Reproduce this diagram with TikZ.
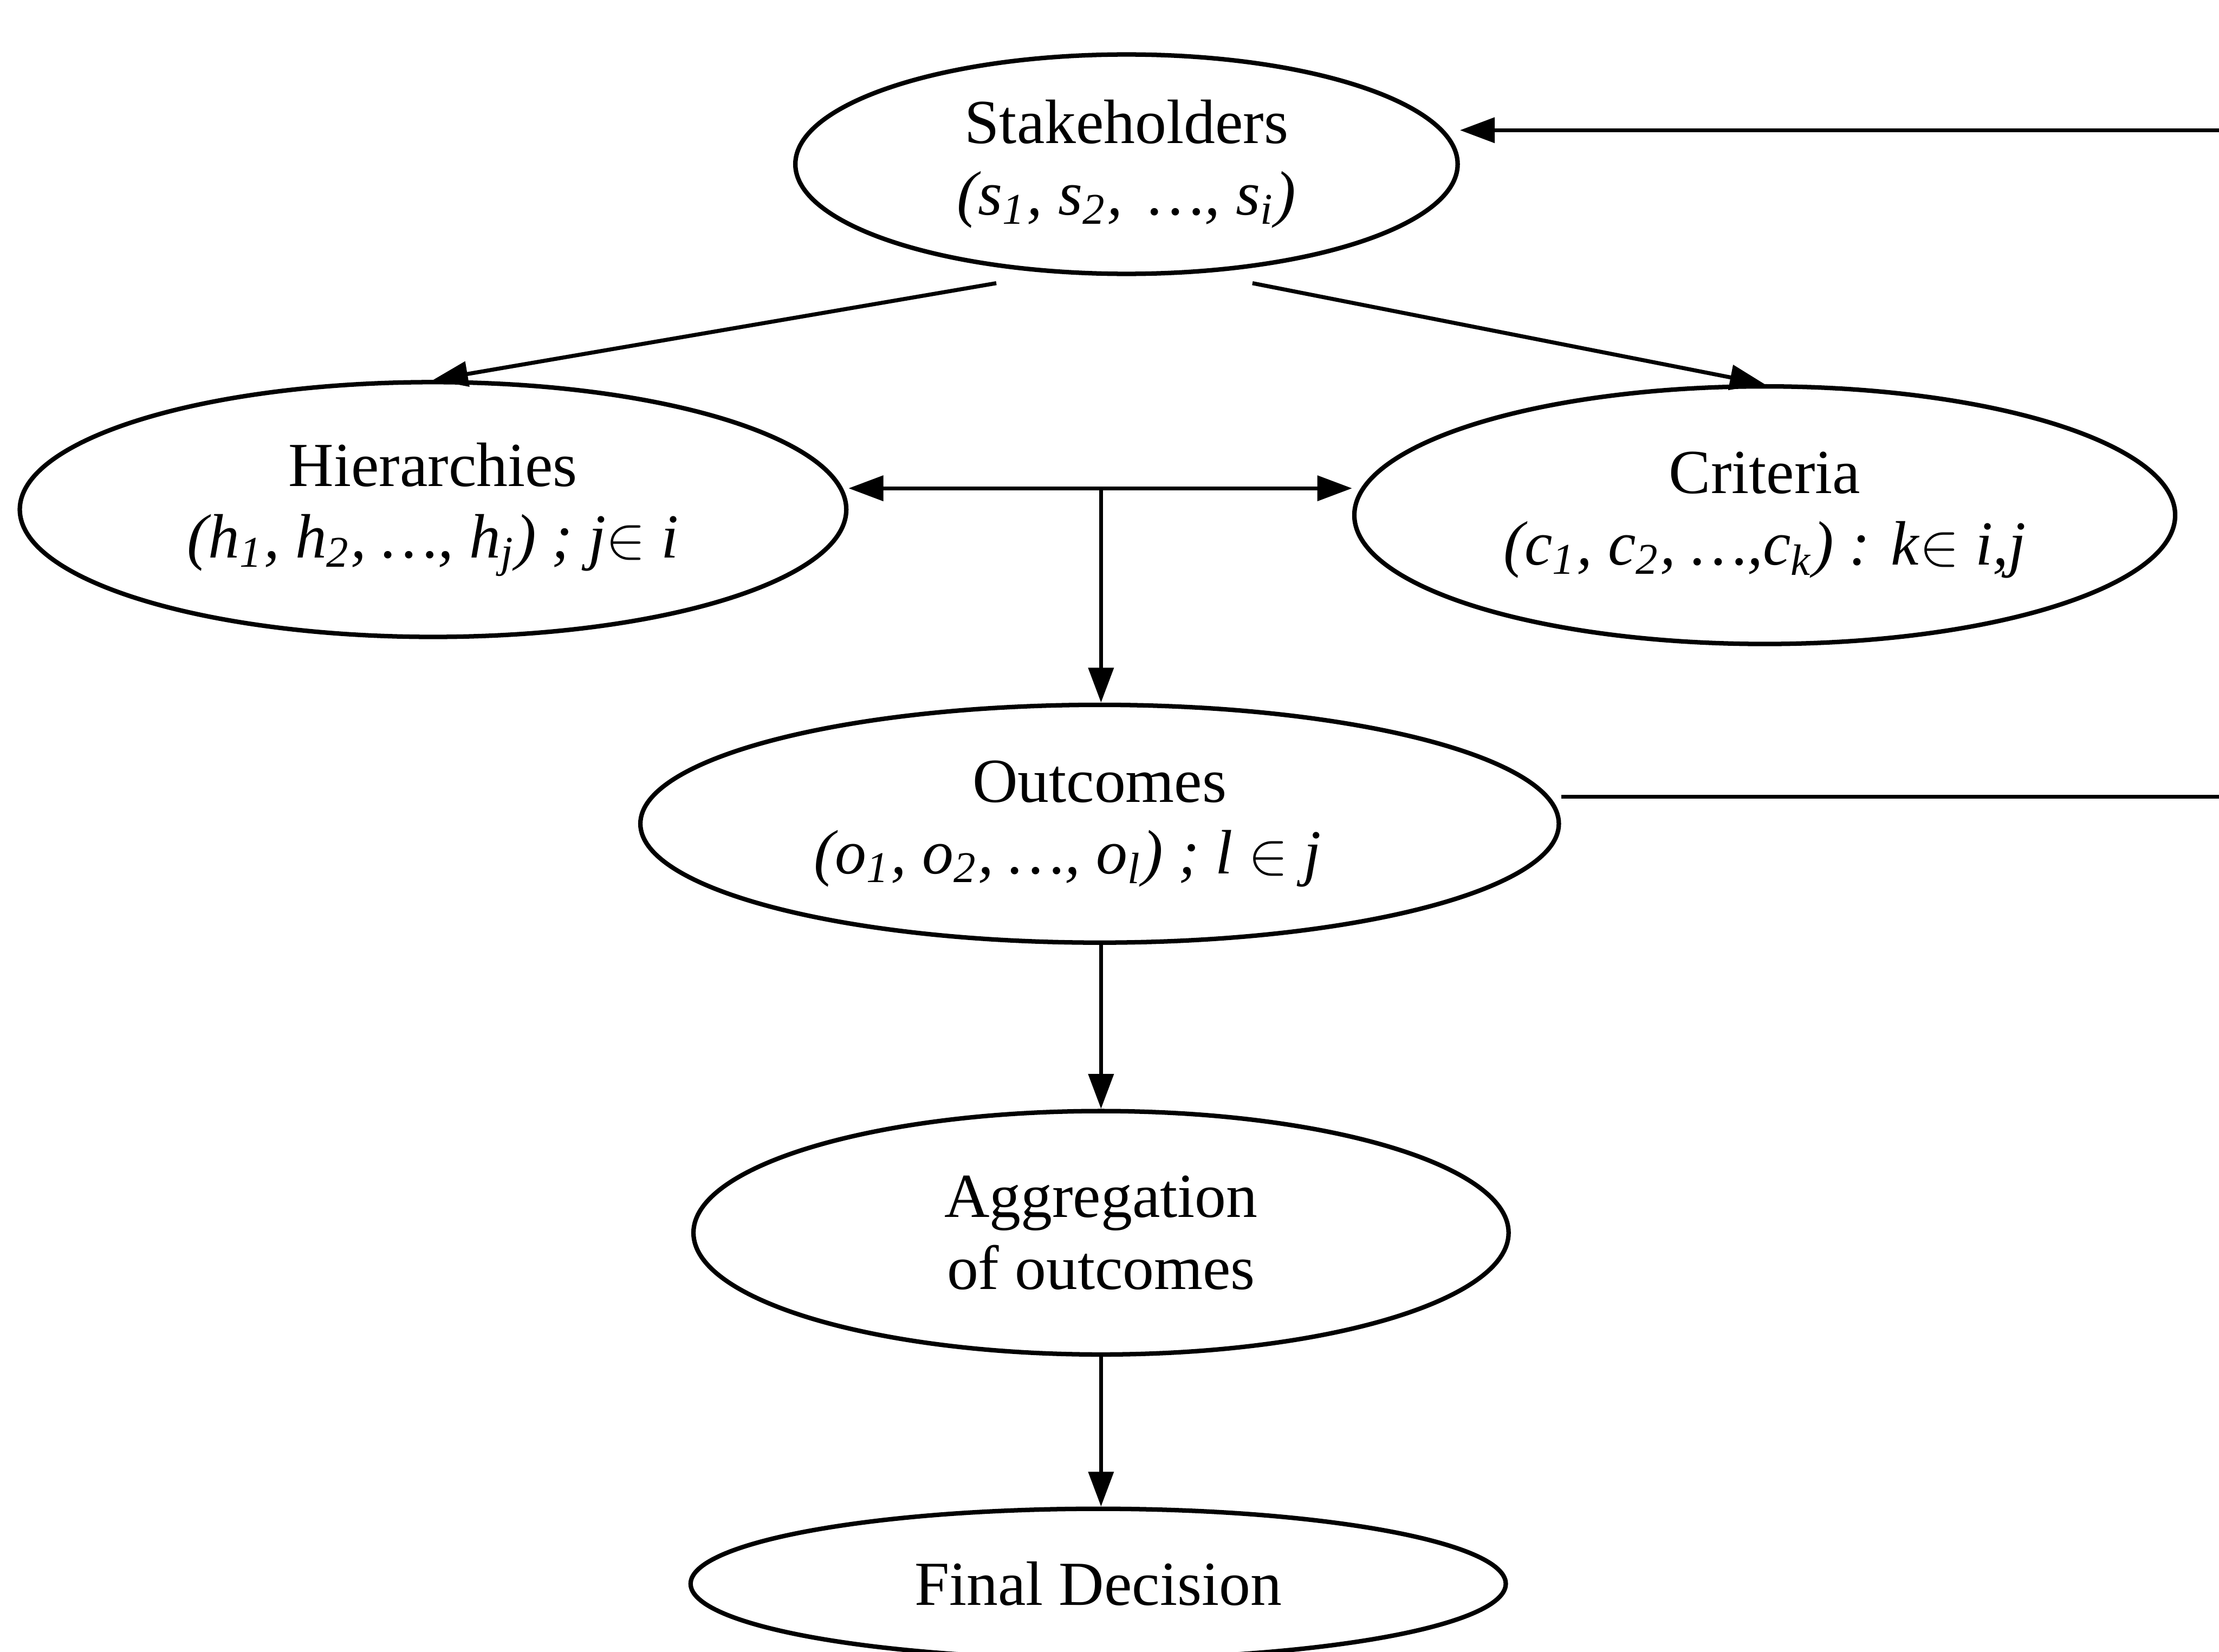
\documentclass[tikz,border=0pt]{standalone}
\usepackage{fontspec}
\setmainfont{Liberation Serif}
\usetikzlibrary{arrows.meta,calc,shapes.geometric}
\begin{document}
\begin{tikzpicture}[
  every node/.style={font=\fontsize{12.6}{14.4}\selectfont},
  oval/.style={draw, ellipse, line width=0.9pt, inner sep=0pt, align=center},
  conn/.style={line width=0.8pt},
  arr/.style={conn, -{Triangle[length=7pt,width=5pt]}},
  darr/.style={conn, {Triangle[length=7pt,width=5pt]}-{Triangle[length=7pt,width=5pt]}}
]
\clip (0,0) rectangle (15.68,-11.67);
\node[oval, minimum width=4.68cm, minimum height=1.55cm] (sh) at (7.96,-1.16)
  {Stakeholders\\ \textit{(s\textsubscript{1}, s\textsubscript{2}, \,…, s\textsubscript{i})}};
\node[oval, minimum width=5.84cm, minimum height=1.80cm] (hi) at (3.06,-3.60)
  {Hierarchies\\ \textit{(h\textsubscript{1}, h\textsubscript{2}, …, h\textsubscript{j}) ; j}$\in$ \textit{i}};
\node[oval, minimum width=5.80cm, minimum height=1.82cm] (cr) at (12.47,-3.64)
  {Criteria\\ \textit{(c\textsubscript{1}, c\textsubscript{2}, …,c\textsubscript{k}) : k}$\in$ \textit{i,j}};
\node[oval, minimum width=6.49cm, minimum height=1.68cm] (out) at (7.77,-5.82)
  {Outcomes\\ \hspace*{-0.45cm}\textit{(o\textsubscript{1}, o\textsubscript{2}, …, o\textsubscript{l}) ; l} $\in$ \textit{j}};
\node[oval, minimum width=5.76cm, minimum height=1.72cm] (ag) at (7.78,-8.71)
  {Aggregation\\ of outcomes};
\node[oval, minimum width=5.76cm, minimum height=1.06cm] (fd) at (7.76,-11.19)
  {Final Decision};

\coordinate (j) at (7.78,-3.45);
\coordinate (r1) at (15.70,-0.92);
\coordinate (r2) at (15.70,-5.63);

\draw[arr] ($(sh.south)+(-0.92,-0.05)$) -- (hi.north);
\draw[arr] ($(sh.south)+(0.89,-0.05)$) -- (cr.north);
\draw[darr] (hi.east |- j) -- (cr.west |- j);
\draw[arr] (j) -- (j |- out.north);
\draw[arr] (j |- out.south) -- (j |- ag.north);
\draw[arr] (j |- ag.south) -- (j |- fd.north);
\draw[arr] (r1) -- (sh.east |- r1);
\draw[conn] (out.east |- r2) -- (r2);
\end{tikzpicture}
\end{document}
